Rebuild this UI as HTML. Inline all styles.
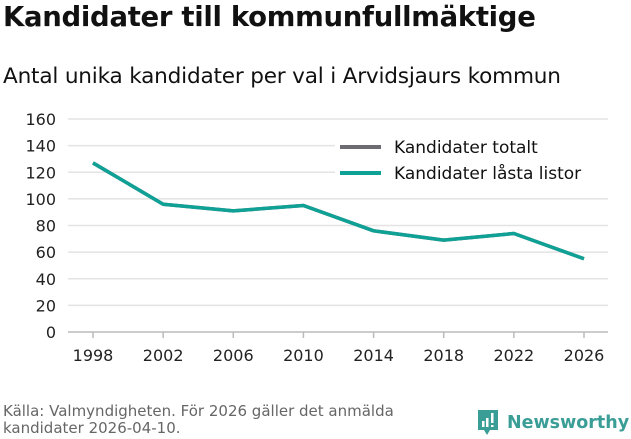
<!DOCTYPE html>
<html><head><meta charset="utf-8">
<style>
body{margin:0;width:631px;height:439px;background:#fff;font-family:"DejaVu Sans","Liberation Sans",sans-serif;overflow:hidden;position:relative}
.t{position:absolute;left:3px;top:1px;font-size:27.5px;font-weight:bold;color:#111;letter-spacing:-0.3px;white-space:nowrap}
.s{position:absolute;left:3px;top:64px;font-size:21.6px;color:#111;letter-spacing:-0.2px;white-space:nowrap}
.src{position:absolute;left:3px;top:403px;font-size:15px;color:#666;line-height:17px;white-space:nowrap}
</style></head><body>
<div class="t">Kandidater till kommunfullmäktige</div>
<div class="s">Antal unika kandidater per val i Arvidsjaurs kommun</div>
<svg id="c" width="631" height="439" style="position:absolute;left:0;top:0"></svg>
<div class="src">Källa: Valmyndigheten. För 2026 gäller det anmälda<br>kandidater 2026-04-10.</div>
<div style="position:absolute;left:476px;top:408px;display:flex;align-items:center">
<svg width="24" height="30" viewBox="0 0 24 30"><path d="M2 2h20v20h-8l-3 5-3-5H2z" fill="#3a9e96"/><rect x="6" y="13" width="2.5" height="6" fill="#fff"/><rect x="10" y="10" width="2.5" height="9" fill="#fff"/><rect x="15" y="5" width="2.5" height="10" fill="#fff"/><rect x="15" y="17" width="2.5" height="2" fill="#fff"/></svg>
<span style="font-size:17.5px;font-weight:bold;color:#3a9e96;margin-left:7px">Newsworthy</span></div>
<script>
const years=[1998,2002,2006,2010,2014,2018,2022,2026];
const total=[127,96,91,95,76,69,74,55];
const locked=[127,96,91,95,76,69,74,55];
const yTicks=[0,20,40,60,80,100,120,140,160];
const NS="http://www.w3.org/2000/svg";
const svg=document.getElementById('c');
const x=v=>93+(v-1998)*(584-93)/28;
const y=v=>332-v*(332-119)/160;
function el(t,a){const e=document.createElementNS(NS,t);for(const k in a)e.setAttribute(k,a[k]);svg.appendChild(e);return e;}
yTicks.forEach(v=>{
 const g=el('line',{x1:68,x2:608,y1:y(v),y2:y(v),stroke:v===0?'#bbb':'#e3e3e3','stroke-width':1.5});
 
 
 const t=el('text',{x:56,y:y(v)+6,'text-anchor':'end','font-size':16,fill:'#222'});t.textContent=v;
 
 
});
years.forEach(v=>{
 const k=el('line',{x1:x(v),x2:x(v),y1:332,y2:338,stroke:'#bbb','stroke-width':1.5});
 
 
 const t=el('text',{x:x(v),y:361,'text-anchor':'middle','font-size':16,fill:'#222'});t.textContent=v;
 
 
});
function line(data,color,name){
 const p=el('polyline',{points:data.map((d,i)=>x(years[i])+','+y(d)).join(' '),fill:'none',stroke:color,'stroke-width':3.5,'stroke-linejoin':'round'});
 
 
}
line(total,'#6d6c72','line-kandidater-totalt');
line(locked,'#0fa196','line-kandidater-lasta-listor');
const bg=el('rect',{x:335,y:133,width:275,height:53,fill:'#fff'});


[['Kandidater totalt','#6d6c72',147],['Kandidater låsta listor','#0fa196',173]].forEach(([lab,c,yy])=>{
 const l=el('line',{x1:340,x2:381,y1:yy,y2:yy,stroke:c,'stroke-width':4});
 
 
 const t=el('text',{x:394,y:yy+6,'font-size':17,fill:'#111'});t.textContent=lab;
 
 
});
</script>
</body></html>
